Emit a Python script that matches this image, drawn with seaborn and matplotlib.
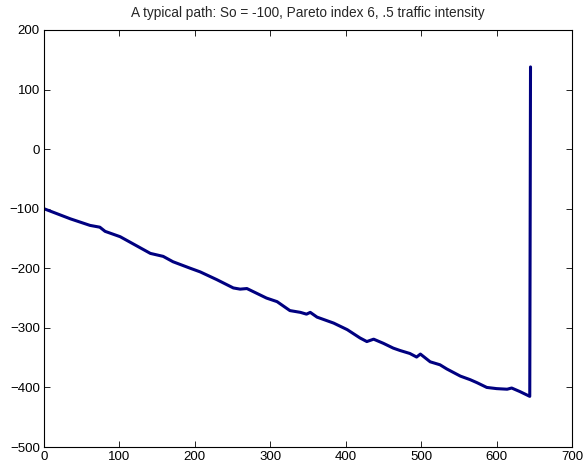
import pandas as pd
import matplotlib
matplotlib.use("Agg")
import matplotlib.pyplot as plt
import seaborn as sns

# path values
step = [0, 35, 61, 74, 81, 101, 141, 158, 171, 194, 207, 229, 251, 260, 269,
        295, 309, 326, 340, 348, 353, 362, 384, 402, 419, 428, 437, 450, 463,
        472, 485, 494, 499, 512, 525, 534, 552, 565, 574, 587, 600, 614, 620,
        631, 644, 645]
level = [-100, -117, -128, -131, -138, -147, -175, -180, -189, -200, -206, -219,
         -233, -235, -234, -250, -256, -271, -274, -277, -274, -282, -292, -303,
         -317, -323, -319, -326, -334, -338, -343, -349, -344, -357, -362, -369,
         -381, -387, -392, -400, -402, -403, -401, -407, -415, 138]
x_ticks = [0, 100, 200, 300, 400, 500, 600, 700]
y_ticks = [-500, -400, -300, -200, -100, 0, 100, 200]

df = pd.DataFrame({"step": step, "level": level})

sns.set_style("ticks")
plt.rcParams['font.family'] = ['Liberation Sans', 'DejaVu Sans']

fig = plt.figure(figsize=(5.84, 4.72), dpi=100)
ax = fig.add_axes([44 / 584, 25 / 472, 528 / 584, 417 / 472])

sns.lineplot(data=df, x="step", y="level", sort=False, estimator=None,
             color="#000080", linewidth=2.2, ax=ax)

ax.set_xlim(0, 700)
ax.set_ylim(-500, 200)
ax.set_xticks(x_ticks)
ax.set_yticks(y_ticks)
ax.set_xlabel("")
ax.set_ylabel("")
ax.tick_params(direction="in", top=True, right=True, length=4.5, width=0.6,
               labelsize=9.5, pad=3, colors="black")
for s in ax.spines.values():
    s.set_linewidth(0.8)
    s.set_color("black")
ax.set_title("A typical path: So = -100, Pareto index 6, .5 traffic intensity",
             fontsize=9.8, pad=9)

fig.savefig("out.png", dpi=100)
